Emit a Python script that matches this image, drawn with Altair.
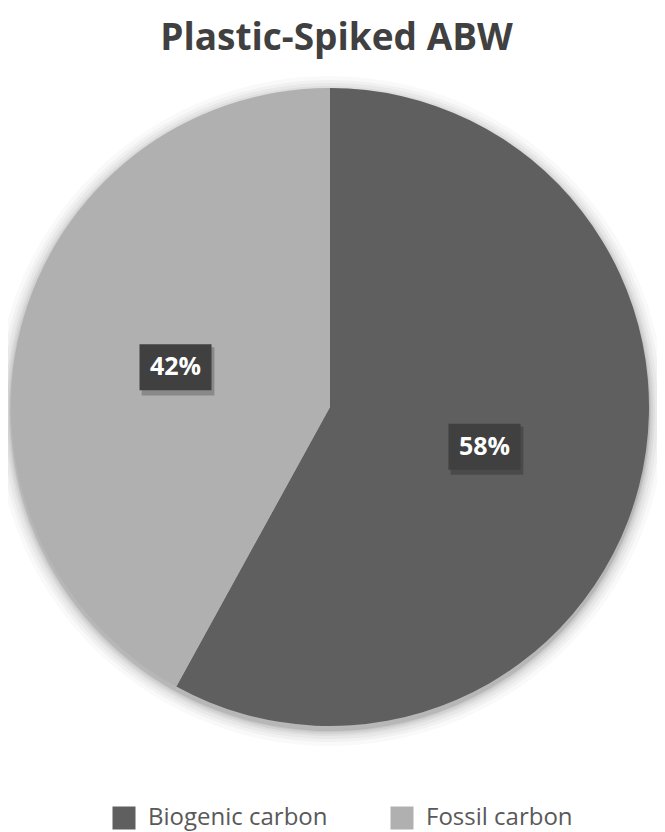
import altair as alt
import pandas as pd

categories = ["Biogenic carbon", "Fossil carbon"]
values = [58, 42]
order_idx = [0, 1]
colors = ["#5f5f5f", "#b0b0b0"]

df = pd.DataFrame({"category": categories, "value": values, "idx": order_idx})

W, H = 649, 756
CX, CY, R = 322, 339, 319

base = alt.Chart(df)

color = alt.Color("category:N", scale=alt.Scale(domain=categories, range=colors),
                  legend=alt.Legend(orient="none", legendX=104, legendY=738, direction="horizontal",
                                    title=None, symbolType="square", symbolSize=529,
                                    symbolStrokeWidth=0, symbolOpacity=1,
                                    labelFontSize=24, labelFont="Open Sans", labelColor="#595959",
                                    labelLimit=400, labelOffset=12, columnPadding=62, padding=0))

shadow_layers = []
for k, op in [(16, 0.025), (12, 0.03), (9, 0.035), (6, 0.045), (4, 0.05), (2, 0.06), (1, 0.07)]:
    shadow_layers.append(
        base.mark_arc(radius=R + k, color="#000000", opacity=op, stroke=None).encode(
            theta=alt.Theta("value:Q", stack=True),
            order=alt.Order("idx:Q"),
            x=alt.value(CX), y=alt.value(CY + 4),
        )
    )

pie = base.mark_arc(radius=R, stroke=None).encode(
    theta=alt.Theta("value:Q", stack=True),
    order=alt.Order("idx:Q"),
    color=color,
    x=alt.value(CX), y=alt.value(CY),
)

lab = base.transform_joinaggregate(total="sum(value)").transform_window(
    cum="sum(value)", sort=[alt.SortField("idx")]
).transform_calculate(
    mid="(datum.cum - datum.value/2)/datum.total*2*PI",
    px="0.5*sin(datum.mid)",
    py="0.5*cos(datum.mid)",
    label="format(datum.value, 'd') + '%'",
)

xs = alt.X("px:Q", scale=alt.Scale(domain=[-1, 1], range=[CX - R, CX + R]), axis=None)
ys = alt.Y("py:Q", scale=alt.Scale(domain=[-1, 1], range=[CY + R, CY - R]), axis=None)

box_shadow = lab.mark_point(shape="M-0.94,-0.56L1.08,-0.56L1.08,0.78L-0.94,0.78Z", size=5184,
                            filled=True, color="#000000", opacity=0.22).encode(x=xs, y=ys)
box = lab.mark_point(shape="M-1,-0.64L1,-0.64L1,0.64L-1,0.64Z", size=5184,
                     filled=True, color="#404040", opacity=1).encode(x=xs, y=ys)
txt = lab.mark_text(font="Open Sans", fontWeight="bold", fontSize=25, color="white",
                    baseline="middle", align="center").encode(x=xs, y=ys, text="label:N")

chart = alt.layer(*shadow_layers, pie, box_shadow, box, txt).properties(
    width=W, height=H,
    padding={"top": 60, "left": 0, "right": 0, "bottom": 8},
    autosize="none",
    title=alt.Title("Plastic-Spiked ABW", font="Open Sans", fontSize=37, fontWeight="bold",
                    color="#404040", anchor="middle", offset=10, dx=4),
).configure_view(stroke=None)

chart.save("out.html", embed_options={"renderer": "svg", "actions": False})
